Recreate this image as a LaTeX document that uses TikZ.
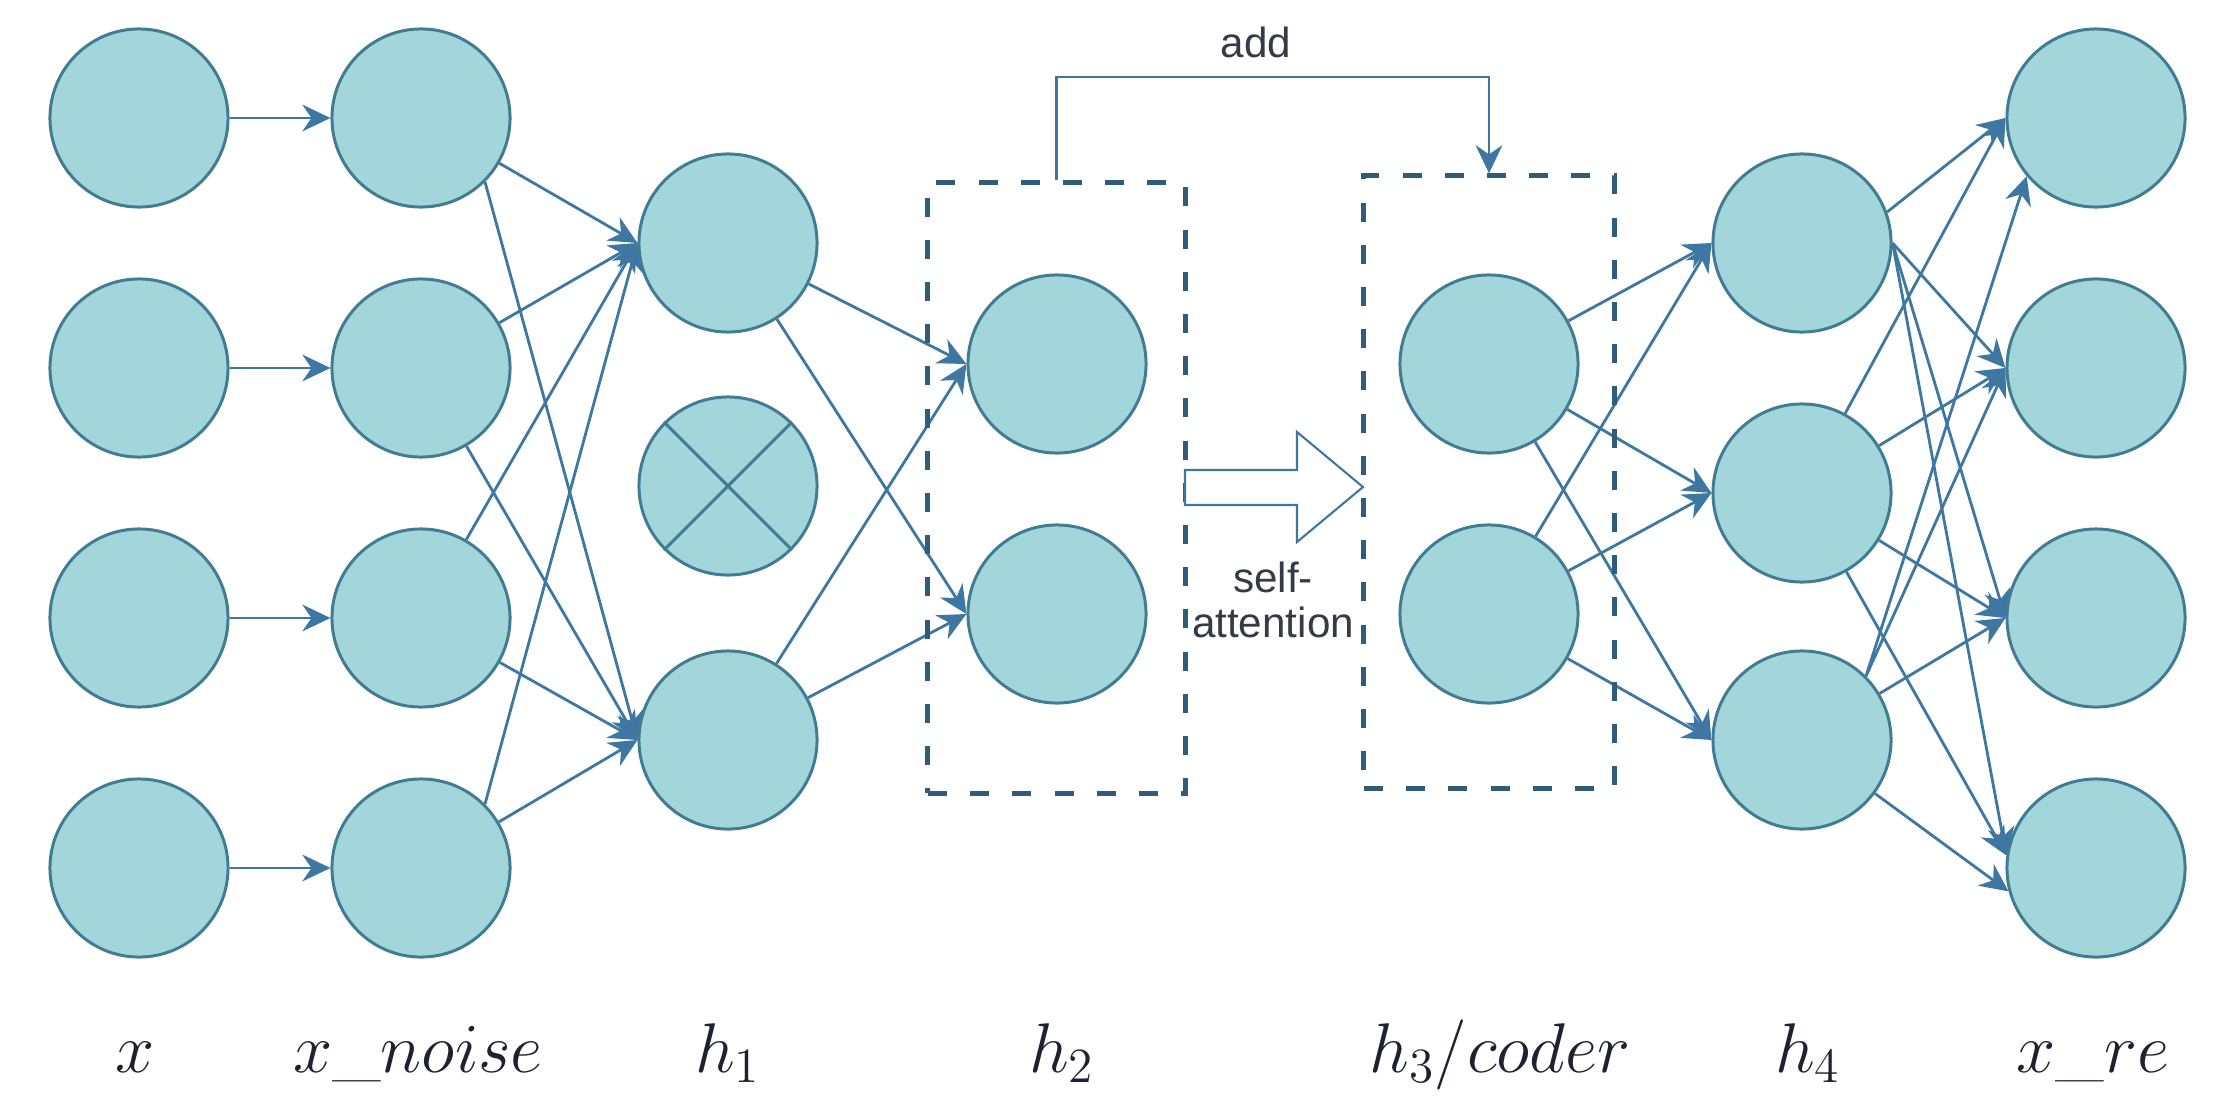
\RequirePackage{fix-cm}
\documentclass[tikz,border=0pt]{standalone}
\usepackage{fontspec}
\newfontfamily\labfont{Liberation Sans}
\usetikzlibrary{arrows.meta,backgrounds}

\definecolor{nodefill}{RGB}{163,214,218}
\definecolor{nodeline}{RGB}{66,124,146}
\definecolor{edgecol}{RGB}{62,120,162}
\definecolor{boxcol}{RGB}{46,92,122}
\definecolor{txtcol}{RGB}{52,58,70}
\definecolor{mathcol}{RGB}{28,34,48}

\begin{document}
\begin{tikzpicture}[x=0.01cm,y=-0.01cm,
  neuron/.style={circle, draw=nodeline, fill=nodefill, line width=0.85pt,
    minimum size=1.78cm, inner sep=0pt},
  conn/.style={draw=edgecol, line width=0.8pt,
    -{Stealth[length=8pt,width=7.6pt,inset=2.6pt]}},
  dbox/.style={draw=boxcol, line width=1.4pt, dash pattern=on 5.4pt off 6.6pt,
    inner sep=0pt},
  lab/.style={anchor=base, text=mathcol, font=\fontsize{20}{24}\selectfont},
  note/.style={text=txtcol, font=\labfont\fontsize{12}{12.8}\selectfont,
    align=center, inner sep=0pt}
]
\useasboundingbox (0,0) rectangle (2239,1112);

% input layer x
\foreach \i/\y in {1/118,2/368,3/618,4/868}
  \node[neuron] (x\i) at (139,\y) {};
% noisy input
\foreach \i/\y in {1/118,2/368,3/618,4/868}
  \node[neuron] (n\i) at (421,\y) {};
% h1 (middle unit dropped)
\node[neuron] (a1) at (728,243) {};
\node[neuron] (a2) at (728,486) {};
\node[neuron] (a3) at (728,740) {};
\draw[nodeline, line width=0.85pt] (a2.45) -- (a2.225) (a2.135) -- (a2.315);
% h2
\node[neuron] (b1) at (1057,364) {};
\node[neuron] (b2) at (1057,614) {};
% h3 / coder
\node[neuron] (c1) at (1489,364) {};
\node[neuron] (c2) at (1489,614) {};
% h4
\node[neuron] (d1) at (1802,243) {};
\node[neuron] (d2) at (1802,493) {};
\node[neuron] (d3) at (1802,740) {};
% reconstruction
\foreach \i/\y in {1/118,2/368,3/618,4/868}
  \node[neuron] (r\i) at (2096,\y) {};

% dashed group frames
\node[dbox, minimum width=2.57cm, minimum height=6.10cm] (g2) at (1056.5,488) {};
\node[dbox, minimum width=2.50cm, minimum height=6.12cm] (g3) at (1489,482) {};

% connections, kept underneath the units
\begin{pgfonlayer}{background}
\foreach \i in {1,...,4}
  \draw[conn] (x\i) -- (n\i.west);
% x_noise -> h1
\draw[conn] (n1) -- (a1.west);
\draw[conn] (n1.-45) -- (a3.west);
\draw[conn] (n2) -- (a1.west);
\draw[conn] (n2) -- (a3.west);
\draw[conn] (n3) -- (a1.west);
\draw[conn] (n3) -- (a3.west);
\draw[conn] (n4.45) -- (a1.west);
\draw[conn] (n4) -- (a3.west);
% h1 -> h2
\foreach \i in {1,3}
  \foreach \j in {1,2}
    \draw[conn] (a\i) -- (b\j.west);
% h3 -> h4
\foreach \i in {1,2}
  \foreach \j in {1,2,3}
    \draw[conn] (c\i) -- (d\j.west);
% h4 -> x_re
\draw[conn] (d1.20) -- (r1.west);
\draw[conn] (d1.east) -- (r2.west);
\draw[conn] (d1.east) -- (r3.west);
\draw[conn] (d1.east) -- (r4.172);
\draw[conn] (d2) -- (r1.west);
\draw[conn] (d2) -- (r2.west);
\draw[conn] (d2) -- (r3.west);
\draw[conn] (d2) -- (r4.172);
\draw[conn] (d3.45) -- (r1.220);
\draw[conn] (d3.45) -- (r2.west);
\draw[conn] (d3) -- (r3.west);
\draw[conn] (d3) -- (r4.195);
\end{pgfonlayer}

% skip connection "add"
\coordinate (addy) at (0,77);
\draw[conn] (g2.north) -- (g2.north |- addy) -| (g3.north);
\node[note] (addlbl) at (1256,42) {add};

% self-attention block arrow
\draw[draw=edgecol, line width=0.6pt, fill=white, line join=miter]
  (1185,470) -- (1297,470) -- (1297,432) -- (1363,487) -- (1297,542)
  -- (1297,505) -- (1185,505) -- cycle;
\node[note] (salbl) at (1273,600) {self-\\attention};

% layer labels
\node[lab] (lx)  at (135,1072)  {$x$};
\node[lab] (lxn) at (418,1072)  {$x\_noise$};
\node[lab] (lh1) at (728,1072)  {$h_1$};
\node[lab] (lh2) at (1062,1072) {$h_2$};
\node[lab] (lh3) at (1500,1072) {$h_3/coder$};
\node[lab] (lh4) at (1808,1072) {$h_4$};
\node[lab] (lxr) at (2093,1072) {$x\_re$};
\end{tikzpicture}
\end{document}
